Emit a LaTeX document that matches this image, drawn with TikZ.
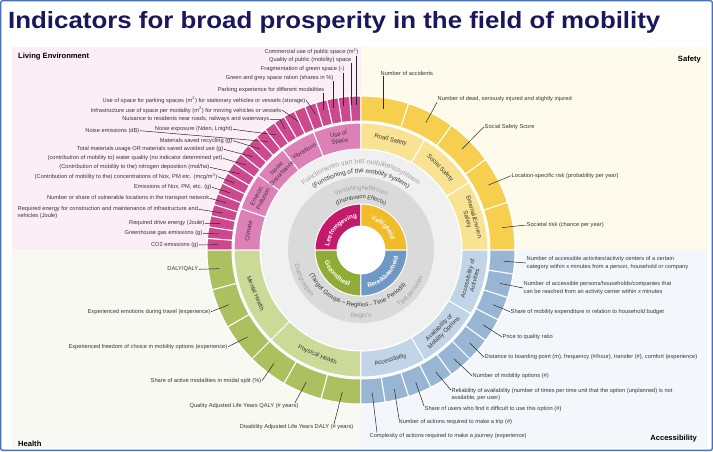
\documentclass[tikz,border=0pt]{standalone}
\usepackage{fontspec}
\setmainfont{Liberation Sans}
\usepackage{graphicx}
\usepackage{tikz}
\usetikzlibrary{decorations.text}

\definecolor{titleblue}{RGB}{27,23,92}
\definecolor{framec}{RGB}{74,112,190}
\definecolor{bgpink}{RGB}{251,238,246}
\definecolor{bgyellow}{RGB}{254,251,237}
\definecolor{bggreen}{RGB}{248,249,242}
\definecolor{bgblue}{RGB}{243,246,250}
\definecolor{pinkO}{RGB}{206,72,144}
\definecolor{pinkM}{RGB}{222,128,184}
\definecolor{pinkI}{RGB}{196,26,108}
\definecolor{yellowO}{RGB}{246,207,78}
\definecolor{yellowM}{RGB}{249,226,146}
\definecolor{yellowI}{RGB}{242,187,42}
\definecolor{greenO}{RGB}{172,192,96}
\definecolor{greenM}{RGB}{204,218,152}
\definecolor{greenI}{RGB}{145,172,54}
\definecolor{blueO}{RGB}{152,182,212}
\definecolor{blueM}{RGB}{193,212,232}
\definecolor{blueI}{RGB}{112,152,197}
\definecolor{ringlight}{RGB}{240,240,240}
\definecolor{ringdark}{RGB}{218,218,218}
\definecolor{greytxt}{RGB}{160,160,160}
\definecolor{labeltxt}{RGB}{55,55,55}
\definecolor{leadc}{RGB}{40,40,40}

\newcommand{\ringpart}[5]{\fill[#1, draw=white, line width=1pt] (#2:#4) arc (#2:#3:#4) -- (#3:#5) arc (#3:#2:#5) -- cycle;}

\begin{document}
\begin{tikzpicture}[x=1pt, y=1pt,
  ind/.style={font=\fontsize{5.7}{7.4}\selectfont, text=labeltxt, inner sep=0.5pt},
  lead/.style={draw=leadc, line width=0.5pt},
  cat/.style={font=\fontsize{6}{7}\selectfont, text=labeltxt, align=center, inner sep=0pt},
  quad/.style={font=\fontsize{7.6}{9}\selectfont\bfseries, text=black, inner sep=0pt}]
\useasboundingbox (-361,-201) rectangle (352,250);
\fill[white] (-361,-201) rectangle (352,250);
\draw[framec, line width=1.4pt, rounded corners=2pt] (-360.3,-200.3) rectangle (351.3,249.3);
\node[anchor=base west, inner sep=0pt, text=titleblue] (title) at (-353,222)
  {\resizebox{652pt}{17pt}{\bfseries Indicators for broad prosperity in the field of mobility}};

\fill[bgpink] (-349,0) rectangle (0,203);
\fill[bgyellow] (0,0) rectangle (347,203);
\fill[bggreen] (-349,-198) rectangle (0,0);
\fill[bgblue] (0,-198) rectangle (347,0);

\node[quad, anchor=west] (qle) at (-343,193) {Living Environment};
\node[quad, anchor=east] (qsa) at (340,190.7) {Safety};
\node[quad, anchor=west] (qhe) at (-343,-194) {Health};
\node[quad, anchor=east] (qac) at (336,-189) {Accessibility};

\fill[white] (0,0) circle (155);
\foreach \i [evaluate=\i as \a using 90+\i*90/21, evaluate=\i as \b using 90+(\i+1)*90/21] in {0,...,20}
  {\ringpart{pinkO}{\a}{\b}{129}{154}}
\foreach \i [evaluate=\i as \a using 90-\i*18, evaluate=\i as \b using 90-(\i+1)*18] in {0,...,4}
  {\ringpart{yellowO}{\a}{\b}{129}{154}}
\foreach \i [evaluate=\i as \a using 180+\i*15, evaluate=\i as \b using 180+(\i+1)*15] in {0,...,5}
  {\ringpart{greenO}{\a}{\b}{129}{154}}
\foreach \i [evaluate=\i as \a using -\i*9, evaluate=\i as \b using -(\i+1)*9] in {0,...,9}
  {\ringpart{blueO}{\a}{\b}{129}{154}}

\ringpart{pinkM}{90}{112}{101}{127}
\ringpart{pinkM}{112}{128}{101}{127}
\ringpart{pinkM}{128}{144}{101}{127}
\ringpart{pinkM}{144}{161}{101}{127}
\ringpart{pinkM}{161}{180}{101}{127}
\ringpart{yellowM}{90}{60}{101}{127}
\ringpart{yellowM}{60}{32}{101}{127}
\ringpart{yellowM}{32}{0}{101}{127}
\ringpart{greenM}{180}{225}{101}{127}
\ringpart{greenM}{225}{270}{101}{127}
\ringpart{blueM}{270}{300}{101}{127}
\ringpart{blueM}{300}{330}{101}{127}
\ringpart{blueM}{330}{360}{101}{127}

\fill[ringlight] (0,0) circle (100);
\fill[ringdark] (0,0) circle (73);
\ringpart{pinkI}{90}{180}{24}{46}
\ringpart{yellowI}{0}{90}{24}{46}
\ringpart{greenI}{180}{270}{24}{46}
\ringpart{blueI}{270}{360}{24}{46}
\fill[white] (0,0) circle (24);

\path[decorate, decoration={text along path, text align=center,
  text={|\fontsize{6.3}{7}\selectfont\bfseries\color{white}|Leefomgeving}}] (178:32) arc (178:92:32);
\path[decorate, decoration={text along path, text align=center,
  text={|\fontsize{6.3}{7}\selectfont\bfseries\color{white}|Veiligheid}}] (88:32) arc (88:2:32);
\path[decorate, decoration={text along path, text align=center,
  text={|\fontsize{6.3}{7}\selectfont\bfseries\color{white}|Gezondheid}}] (182:38) arc (182:268:38);
\path[decorate, decoration={text along path, text align=center,
  text={|\fontsize{6.3}{7}\selectfont\bfseries\color{white}|Bereikbaarheid}}] (272:38) arc (272:358:38);

\path[decorate, decoration={text along path, text align=center,
  text={|\fontsize{7}{7}\selectfont\color{greytxt}|Functioneren van het mobiliteitssysteem}}] (165:86) arc (165:15:86);
\path[decorate, decoration={text along path, text align=center,
  text={|\fontsize{6.4}{7}\selectfont\color{labeltxt}|(Functioning of the mobility system)}}] (165:77) arc (165:15:77);
\path[decorate, decoration={text along path, text align=center,
  text={|\fontsize{6.4}{7}\selectfont\color{greytxt}|Verdelingseffecten}}] (160:60) arc (160:20:60);
\path[decorate, decoration={text along path, text align=center,
  text={|\fontsize{5.6}{6}\selectfont\color{labeltxt}|(Distribution Effects)}}] (160:51) arc (160:20:51);
\path[decorate, decoration={text along path, text align=center,
  text={|\fontsize{6.2}{7}\selectfont\color{labeltxt}|(Target Groups – Regions - Time Periods)}}] (188:57) arc (188:340:57);
\path[decorate, decoration={text along path, text align=center,
  text={|\fontsize{6.4}{7}\selectfont\color{greytxt}|Doelgroepen}}] (185:68) arc (185:231:68);
\path[decorate, decoration={text along path, text align=center,
  text={|\fontsize{6.4}{7}\selectfont\color{greytxt}|Regio's}}] (250:68) arc (250:290:68);
\path[decorate, decoration={text along path, text align=center,
  text={|\fontsize{6.4}{7}\selectfont\color{greytxt}|Tijdsperioden}}] (295:68) arc (295:345:68);

\node[cat, rotate=11] (c1) at (101:114) {Use of\\Space};
\node[cat, rotate=30] (c2) at (120:114) {Vibrations};
\node[cat, rotate=46] (c3) at (136:114) {Noise\\Disturbance};
\node[cat, rotate=62.5] (c4) at (152.5:114) {Environ.\\Pollution};
\node[cat, rotate=80.5] (c5) at (170.5:114) {Climate};
\node[cat, rotate=-15] (c6) at (75:114) {Road Safety};
\node[cat, rotate=-46] (c7) at (46:114) {Social Safety};
\node[cat, rotate=-74] (c8) at (16:114) {External/Environ.\\Safety};
\node[cat, rotate=75] (c9) at (345:114) {Accessibility of\\Activities};
\node[cat, rotate=45] (c10) at (315:114) {Availability of\\Mobility Options};
\node[cat, rotate=15] (c11) at (285:114) {Accessibility};
\node[cat, rotate=-67.5] (c12) at (202.5:114) {Mental Health};
\node[cat, rotate=-22.5] (c13) at (247.5:114) {Physical Health};

\foreach \i in {1,...,21} \coordinate (s\i) at ({90+(\i-0.5)*90/21}:143);
\foreach \i in {1,...,5} \coordinate (ys\i) at ({90-(\i-0.5)*18}:143);
\foreach \i in {1,...,6} \coordinate (gs\i) at ({180+(\i-0.5)*15}:143);
\foreach \i in {1,...,10} \coordinate (bs\i) at ({-(\i-0.5)*9}:143);
\coordinate (t1) at (-5,144.9);
\coordinate (t2) at (-10,144.7);
\coordinate (t3) at (-18,143.9);
\coordinate (t4) at (-28,142.3);
\coordinate (t5) at (-38,139.9);
\coordinate (t6) at (108.5:143);
\coordinate (t7) at (116:143);

\node[ind, anchor=east] (p1) at (-2,198.3) {Commercial use of public space (m\textsuperscript{2})};
\node[ind, anchor=east] (p2) at (-9,190) {Quality of public (mobility) space};
\node[ind, anchor=east] (p3) at (-16,180.7) {Fragmentation of green space (-)};
\node[ind, anchor=east] (p4) at (-27,172) {Green and grey space ration (shares in \%)};
\node[ind, anchor=east] (p5) at (-36,160) {Parking experience for different modalities};
\node[ind, anchor=east] (p6) at (-55,150) {Use of space for parking spaces (m\textsuperscript{2}) for stationary vehicles or vessels (storage)};
\node[ind, anchor=east] (p7) at (-79,140) {Infrastructure use of space per modality (m\textsuperscript{2}) for moving vehicles or vessels};
\node[ind, anchor=east] (p8) at (-91,130.7) {Nuisance to residents near roads, railways and waterways};
\node[ind, anchor=east] (p9) at (-128,120.7) {Noise exposure (Nden, Lnight)};
\node[ind, anchor=east] (p10) at (-221,119.3) {Noise emissions (dB)};
\node[ind, anchor=east] (p11) at (-128,109.3) {Materials saved recycling (g)};
\node[ind, anchor=east] (p12) at (-137,100.7) {Total materials usage OR materials saved avoided use (g)};
\node[ind, anchor=east] (p13) at (-138,91.7) {(contribution of mobility to) water quality (no indicator determined yet)};
\node[ind, anchor=east] (p14) at (-151,82.7) {(Contribution of mobility to the) nitrogen deposition (mol/ha)};
\node[ind, anchor=east] (p15) at (-143,73.3) {(Contribution of mobility to the) concentrations of Nox, PM etc. (mcg/m\textsuperscript{3})};
\node[ind, anchor=east] (p16) at (-149,62.7) {Emissions of Nox, PM, etc. (g)};
\node[ind, anchor=east] (p17) at (-151,51.7) {Number or share of vulnerable locations in the transport network};
\node[ind, anchor=north west, align=left] (p18) at (-344,44.3) {Required energy for construction and maintenance of infrastructure and\\vehicles (Joule)};
\node[ind, anchor=east] (p19) at (-156,26.7) {Required drive energy (Joule)};
\node[ind, anchor=east] (p20) at (-158,16.7) {Greenhouse gas emissions (g)};
\node[ind, anchor=east] (p21) at (-162,5) {CO2 emissions (g)};

\draw[lead] (p1.south -| t1) -- (t1);
\draw[lead] (p2.south -| t2) -- (t2);
\draw[lead] (p3.south -| t3) -- (t3);
\draw[lead] (p4.south -| t4) -- (t4);
\draw[lead] (p5.south -| t5) -- (t5);
\draw[lead] (p6.east) -- (t6);
\draw[lead] (p7.east) -- (t7);
\draw[lead] (p8.east) -- ++(10,0) -- (s8);
\draw[lead] (p9.east) -- (s9);
\draw[lead] (p10.east) -- (s10);
\draw[lead] (p11.east) -- (s11);
\draw[lead] (p12.east) -- (s12);
\draw[lead] (p13.east) -- (s13);
\draw[lead] (p14.east) -- (s14);
\draw[lead] (p15.east) -- (s15);
\draw[lead] (p16.east) -- (s16);
\draw[lead] (p17.east) -- (s17);
\draw[lead] ([yshift=-3.6pt]p18.north east) -- (s18);
\draw[lead] (p19.east) -- (s19);
\draw[lead] (p20.east) -- (s20);
\draw[lead] (p21.east) -- (s21);

\node[ind, anchor=west] (y1) at (19,176.7) {Number of accidents};
\node[ind, anchor=west] (y2) at (76,151) {Number of dead, seriously injured and slightly injured};
\node[ind, anchor=west] (y3) at (123,123.3) {Social Safety Score};
\node[ind, anchor=west] (y4) at (150,74.3) {Location-specific risk (probability per year)};
\node[ind, anchor=west] (y5) at (165,25) {Societal risk (chance per year)};

\draw[lead] (y1.south -| ys1) -- (ys1);
\draw[lead] (y2.south west) -- (ys2);
\draw[lead] (y3.west) -- (ys3);
\draw[lead] (y4.west) -- (ys4);
\draw[lead] (y5.west) -- (ys5);

\node[ind, anchor=west, align=left] (b1) at (165,-13) {Number of accessible activities/activity centers of a certain\\category within x minutes from a person, household or company};
\node[ind, anchor=west, align=left] (b2) at (162,-38) {Number of accessible persons/households/companies that\\can be reached from an activity center within x minutes};
\node[ind, anchor=west] (b3) at (149,-61.7) {Share of mobility expenditure in relation to household budget};
\node[ind, anchor=west] (b4) at (141,-87) {Price to quality ratio};
\node[ind, anchor=west] (b5) at (123,-107.3) {Distance to boarding point (m), frequency (\#/hour), transfer (\#), comfort (experience)};
\node[ind, anchor=west] (b6) at (111,-125.7) {Number of mobility options (\#)};
\node[ind, anchor=west, align=left] (b7) at (90,-144.7) {Reliability of availability (number of times per time unit that the option (unplanned) is not\\available, per user)};
\node[ind, anchor=west] (b8) at (63,-159.3) {Share of users who find it difficult to use this option (\#)};
\node[ind, anchor=west] (b9) at (37,-172.3) {Number of actions required to make a trip (\#)};
\node[ind, anchor=west] (b10) at (8,-186) {Complexity of actions required to make a journey (experience)};

\draw[lead] (b1.west) -- (bs1);
\draw[lead] (b2.west) -- (bs2);
\draw[lead] (b3.west) -- (bs3);
\draw[lead] (b4.west) -- (bs4);
\draw[lead] (b5.west) -- (bs5);
\draw[lead] (b6.west) -- (bs6);
\draw[lead] ([yshift=-2.5pt]b7.north west) -- (bs7);
\draw[lead] (b8.north west) -- (bs8);
\draw[lead] ([xshift=1pt]b9.north west) -- (bs9);
\draw[lead] ([xshift=8pt]b10.north west) -- (bs10);

\node[ind, anchor=east] (g1) at (-162,-19.3) {DALY/QALY};
\node[ind, anchor=east] (g2) at (-150,-61.7) {Experienced emotions during travel (experience)};
\node[ind, anchor=east] (g3) at (-133,-96.7) {Experienced freedom of choice in mobility options (experience)};
\node[ind, anchor=east] (g4) at (-99,-130.7) {Share of active modalities in modal split (\%)};
\node[ind, anchor=east] (g5) at (-62,-156) {Quality Adjusted Life Years QALY (\# years)};
\node[ind, anchor=east] (g6) at (-7,-177.3) {Disability Adjusted Life Years DALY (\# years)};

\draw[lead] (g1.east) -- (gs1);
\draw[lead] (g2.east) -- (gs2);
\draw[lead] (g3.east) -- (gs3);
\draw[lead] (g4.east) -- (gs4);
\draw[lead] ([xshift=-4pt]g5.north east) -- (gs5);
\draw[lead] ([xshift=-20pt]g6.north east) -- (gs6);
\end{tikzpicture}
\end{document}
